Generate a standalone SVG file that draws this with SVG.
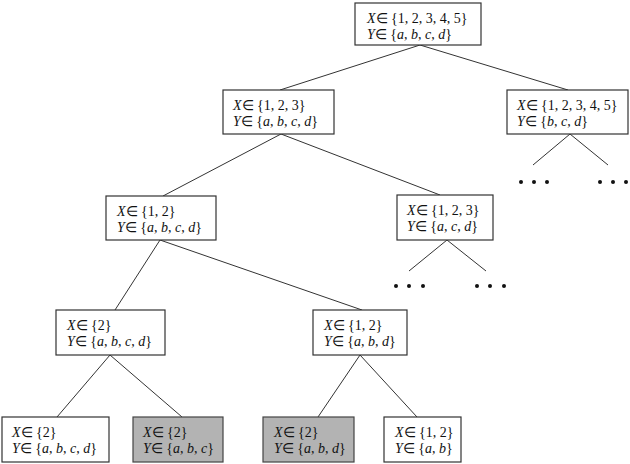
<svg xmlns="http://www.w3.org/2000/svg" width="630" height="464" viewBox="0 0 630 464">
<style>
rect{fill:#fff;stroke:#333;stroke-width:1.2}
rect.g{fill:#b3b3b3;stroke:#444}
text{font-family:"Liberation Serif","Times New Roman",serif;font-size:14px;fill:#111}
.i{font-style:italic}
#connectors line{stroke:#333;stroke-width:1}
.dot{fill:#111}
</style>
<g id="connectors">
<line x1="420" y1="45" x2="280" y2="90"/>
<line x1="420" y1="45" x2="568" y2="90"/>
<line x1="281" y1="134" x2="163" y2="196"/>
<line x1="281" y1="134" x2="440" y2="195"/>
<line x1="570" y1="134" x2="533" y2="165"/>
<line x1="570" y1="134" x2="608" y2="165"/>
<line x1="160" y1="240" x2="115" y2="310"/>
<line x1="160" y1="240" x2="362" y2="310"/>
<line x1="447" y1="240" x2="409" y2="271"/>
<line x1="447" y1="240" x2="486" y2="271"/>
<line x1="110" y1="355" x2="57" y2="417"/>
<line x1="110" y1="355" x2="182" y2="417"/>
<line x1="360" y1="355" x2="318" y2="417"/>
<line x1="360" y1="355" x2="417" y2="417"/>
</g>
<g id="dots">
<circle class="dot" cx="521" cy="182" r="2"/><circle class="dot" cx="534" cy="182" r="2"/><circle class="dot" cx="547" cy="182" r="2"/>
<circle class="dot" cx="600" cy="182" r="2"/><circle class="dot" cx="613" cy="182" r="2"/><circle class="dot" cx="626" cy="182" r="2"/>
<circle class="dot" cx="396" cy="286" r="2"/><circle class="dot" cx="409" cy="286" r="2"/><circle class="dot" cx="423" cy="286" r="2"/>
<circle class="dot" cx="477" cy="286" r="2"/><circle class="dot" cx="490" cy="286" r="2"/><circle class="dot" cx="504" cy="286" r="2"/>
</g>
<g id="root">
<rect x="355" y="3" width="126" height="42"/>
<text x="367" y="23"><tspan class="i">X</tspan>∈ {1, 2, 3, 4, 5}</text>
<text x="367" y="39"><tspan class="i">Y</tspan>∈ {<tspan class="i">a</tspan>, <tspan class="i">b</tspan>, <tspan class="i">c</tspan>, <tspan class="i">d</tspan>}</text>
</g>
<g id="n1">
<rect x="223" y="90" width="111" height="44"/>
<text x="233" y="110"><tspan class="i">X</tspan>∈ {1, 2, 3}</text>
<text x="233" y="126"><tspan class="i">Y</tspan>∈ {<tspan class="i">a</tspan>, <tspan class="i">b</tspan>, <tspan class="i">c</tspan>, <tspan class="i">d</tspan>}</text>
</g>
<g id="n2">
<rect x="507" y="90" width="121" height="44"/>
<text x="517" y="110"><tspan class="i">X</tspan>∈ {1, 2, 3, 4, 5}</text>
<text x="517" y="126"><tspan class="i">Y</tspan>∈ {<tspan class="i">b</tspan>, <tspan class="i">c</tspan>, <tspan class="i">d</tspan>}</text>
</g>
<g id="n3">
<rect x="106" y="196" width="110" height="44"/>
<text x="117" y="216"><tspan class="i">X</tspan>∈ {1, 2}</text>
<text x="117" y="232"><tspan class="i">Y</tspan>∈ {<tspan class="i">a</tspan>, <tspan class="i">b</tspan>, <tspan class="i">c</tspan>, <tspan class="i">d</tspan>}</text>
</g>
<g id="n4">
<rect x="397" y="195" width="96" height="45"/>
<text x="407" y="215"><tspan class="i">X</tspan>∈ {1, 2, 3}</text>
<text x="407" y="231"><tspan class="i">Y</tspan>∈ {<tspan class="i">a</tspan>, <tspan class="i">c</tspan>, <tspan class="i">d</tspan>}</text>
</g>
<g id="n5">
<rect x="56" y="310" width="109" height="45"/>
<text x="67" y="330"><tspan class="i">X</tspan>∈ {2}</text>
<text x="67" y="346"><tspan class="i">Y</tspan>∈ {<tspan class="i">a</tspan>, <tspan class="i">b</tspan>, <tspan class="i">c</tspan>, <tspan class="i">d</tspan>}</text>
</g>
<g id="n6">
<rect x="313" y="310" width="94" height="45"/>
<text x="324" y="330"><tspan class="i">X</tspan>∈ {1, 2}</text>
<text x="324" y="346"><tspan class="i">Y</tspan>∈ {<tspan class="i">a</tspan>, <tspan class="i">b</tspan>, <tspan class="i">d</tspan>}</text>
</g>
<g id="leaf1">
<rect x="2" y="417" width="107" height="45"/>
<text x="12" y="437"><tspan class="i">X</tspan>∈ {2}</text>
<text x="12" y="453"><tspan class="i">Y</tspan>∈ {<tspan class="i">a</tspan>, <tspan class="i">b</tspan>, <tspan class="i">c</tspan>, <tspan class="i">d</tspan>}</text>
</g>
<g id="leaf2">
<rect class="g" x="133" y="417" width="90" height="45"/>
<text x="143" y="437"><tspan class="i">X</tspan>∈ {2}</text>
<text x="143" y="453"><tspan class="i">Y</tspan>∈ {<tspan class="i">a</tspan>, <tspan class="i">b</tspan>, <tspan class="i">c</tspan>}</text>
</g>
<g id="leaf3">
<rect class="g" x="263" y="417" width="91" height="45"/>
<text x="274" y="437"><tspan class="i">X</tspan>∈ {2}</text>
<text x="274" y="453"><tspan class="i">Y</tspan>∈ {<tspan class="i">a</tspan>, <tspan class="i">b</tspan>, <tspan class="i">d</tspan>}</text>
</g>
<g id="leaf4">
<rect x="384" y="417" width="77" height="45"/>
<text x="395" y="437"><tspan class="i">X</tspan>∈ {1, 2}</text>
<text x="395" y="453"><tspan class="i">Y</tspan>∈ {<tspan class="i">a</tspan>, <tspan class="i">b</tspan>}</text>
</g>
</svg>
